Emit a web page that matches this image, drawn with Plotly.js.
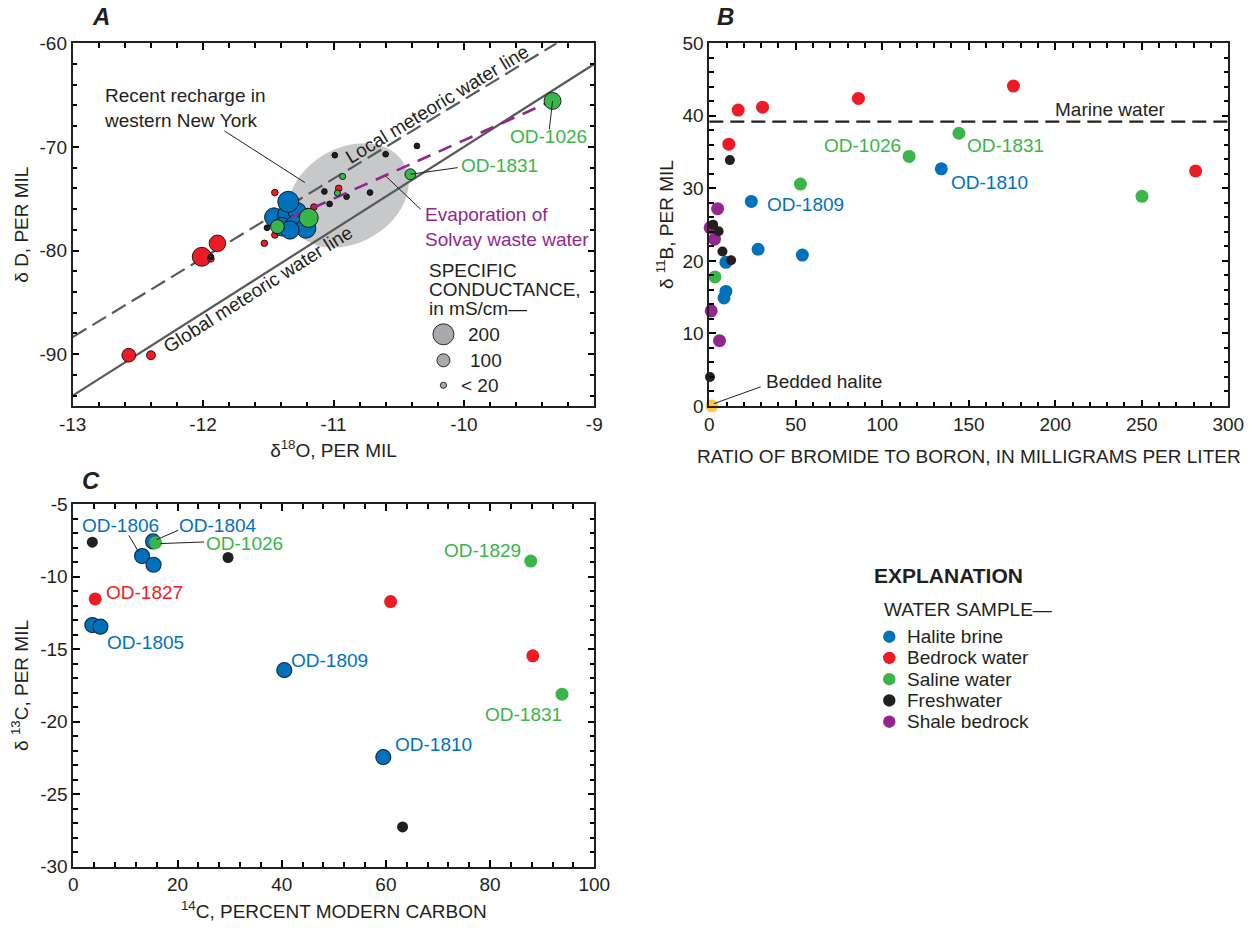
<!DOCTYPE html>
<html><head><meta charset="utf-8">
<script src="https://cdn.plot.ly/plotly-3.0.1.min.js"></script>
<style>html,body{margin:0;padding:0;background:#fff}#chart{width:1252px;height:930px}</style>
</head><body><div id="chart"></div>
<script>
// ---------- Panel A: delta18O vs deltaD, marker size = specific conductance (mS/cm)
const aRedX = [-12.57, -12.40, -12.01, -11.89, -11.94, -11.45, -11.45, -11.53, -11.15, -10.96];
const aRedY = [-90.1, -90.1, -80.6, -79.3, -80.8, -74.4, -78.5, -79.3, -75.8, -74.0];
const aRedSC = [110, 50, 175, 145, 20, 20, 20, 20, 20, 20];
const aFreshX = [-10.99, -10.60, -10.36, -11.07, -10.90, -10.72, -11.03, -11.25, -11.20, -11.51, -11.94];
const aFreshY = [-70.8, -70.7, -69.9, -74.3, -74.8, -74.4, -75.5, -75.8, -76.2, -77.8, -80.6];
const aFreshSC = [10, 10, 10, 10, 10, 10, 10, 10, 10, 10, 10];
const aHaliteX = [-11.456, -11.359, -11.278, -11.397, -11.295, -11.211, -11.334, -11.347];
const aHaliteY = [-76.79, -76.47, -76.25, -77.70, -77.53, -77.85, -78.02, -75.29];
const aHaliteSC = [175, 160, 165, 170, 175, 185, 165, 200];
const aSalineX = [-9.32, -10.41, -11.19, -11.43, -10.93, -10.97];
const aSalineY = [-65.56, -72.64, -76.85, -77.7, -72.85, -74.45];
const aSalineSC = [150, 75, 175, 110, 15, 15];
const gmwlX = [-13, -9], gmwlY = [-94, -62];            // global meteoric water line
const lmwlX = [-13, -9.29], lmwlY = [-88.35, -60];      // local meteoric water line
const evapX = [-11.32, -9.36], evapY = [-76.8, -65.75]; // evaporation of Solvay waste water
const scLegendValues = [200, 100, 15];
const scLegendLabels = ['200', '100', '&lt; 20'];
const aXTicks = [-13, -12, -11, -10, -9], aXTickText = ['-13', '-12', '-11', '-10', '-9'];
const aYTicks = [-90, -80, -70, -60], aYTickText = ['-90', '-80', '-70', '-60'];

// ---------- Panel B: ratio of bromide to boron vs delta11B
const bHaliteX = [134.1, 24.3, 28.2, 53.8, 9.6, 9.6, 8.5];
const bHaliteY = [32.7, 28.2, 21.6, 20.8, 19.8, 15.8, 14.9];
const bBedrockX = [16.7, 30.8, 86.2, 175.8, 11.3, 281.1];
const bBedrockY = [40.8, 41.2, 42.4, 44.1, 36.1, 32.4];
const bSalineX = [115.5, 144.3, 52.7, 250.1, 3.3];
const bSalineY = [34.4, 37.6, 30.6, 28.9, 17.8];
const bFreshX = [11.9, 2.2, 5.4, 7.6, 12.6, 0.4];
const bFreshY = [33.9, 25.0, 24.1, 21.3, 20.1, 4.0];
const bShaleX = [4.8, 0.5, 3.0, 1.1, 5.9];
const bShaleY = [27.2, 24.6, 23.0, 13.1, 9.0];
const bBeddedX = [1.5], bBeddedY = [0];
const marineB = 39.2;

// ---------- Panel C: 14C vs delta13C
const cHaliteX = [15.3, 13.2, 15.4, 3.65, 5.2, 40.5, 59.5];
const cHaliteY = [-7.56, -8.57, -9.17, -13.33, -13.44, -16.44, -22.44];
const cBedrockX = [4.2, 60.9, 88.2], cBedrockY = [-11.53, -11.71, -15.45];
const cSalineX = [15.8, 87.8, 93.8], cSalineY = [-7.65, -8.92, -18.1];
const cFreshX = [3.65, 29.7, 63.2], cFreshY = [-7.61, -8.67, -27.26];
const cYTicks = [-30, -25, -20, -15, -10, -5], cYTickText = ['-30', '-25', '-20', '-15', '-10', '-5'];

const legendNames = ['Halite brine', 'Bedrock water', 'Saline water', 'Freshwater', 'Shale bedrock'];

// ---------- styles
const FONT = 'Liberation Sans, Arial, Helvetica, sans-serif';
const FS = 19;
const INK = '#231f20';
const BLUE = '#0072bc', RED = '#ed1c24', GREEN = '#39b54a', BLACK = '#231f20', PURPLE = '#92278f', YELLOW = '#fdc84a';
const legendColors = [BLUE, RED, GREEN, BLACK, PURPLE];
const GRAYLINE = '#58595b', ELLIPSE = '#c7c8ca', SCGRAY = '#a7a9ac';
const scSize = v => 5 + 0.08 * v;

const traces = [];
const line = (x, y, color, width, dash) => ({type: 'scatter', mode: 'lines', x, y, xaxis: 'x', yaxis: 'y',
  line: {color, width, dash}, showlegend: false, hoverinfo: 'skip'});
const aPts = (x, y, sc, color) => ({type: 'scatter', mode: 'markers', x, y, xaxis: 'x', yaxis: 'y',
  marker: {color, opacity: 1, size: sc.map(scSize), line: {color: '#000', width: 0.8}}, showlegend: false, cliponaxis: false});

traces.push(line(gmwlX, gmwlY, GRAYLINE, 2.2, 'solid'));
traces.push(line(lmwlX, lmwlY, GRAYLINE, 2.2, '16px,7px'));
traces.push(aPts(aRedX, aRedY, aRedSC, RED));
traces.push(aPts(aFreshX, aFreshY, aFreshSC, BLACK));
traces.push(aPts(aHaliteX, aHaliteY, aHaliteSC, BLUE));
traces.push(line(evapX, evapY, PURPLE, 2.6, '14px,9px'));
traces.push(aPts(aSalineX, aSalineY, aSalineSC, GREEN));
const scKeyX = -10.157, scKeyY = [-88.08, -90.59, -93.0];
traces.push({type: 'scatter', mode: 'markers', x: scLegendValues.map(() => scKeyX), y: scKeyY, xaxis: 'x', yaxis: 'y',
  marker: {color: SCGRAY, opacity: 1, size: scLegendValues.map(scSize), line: {color: '#000', width: 0.8}}, showlegend: false});

const bPts = (x, y, color, size, name) => ({type: 'scatter', mode: 'markers', x, y, xaxis: 'x2', yaxis: 'y2',
  name, showlegend: false, cliponaxis: false, marker: {color, opacity: 1, size, line: {width: 0}}});
traces.push(bPts(bHaliteX, bHaliteY, BLUE, 13, 'Halite brine'));
traces.push(bPts(bBedrockX, bBedrockY, RED, 13, 'Bedrock water'));
traces.push(bPts(bSalineX, bSalineY, GREEN, 13, 'Saline water'));
traces.push(bPts(bShaleX, bShaleY, PURPLE, 13, 'Shale bedrock'));
traces.push(bPts(bFreshX, bFreshY, BLACK, 10, 'Freshwater'));
traces.push(bPts(bBeddedX, bBeddedY, YELLOW, 13, 'Bedded halite'));

const cPts = (x, y, color, size, outline) => ({type: 'scatter', mode: 'markers', x, y, xaxis: 'x3', yaxis: 'y3',
  showlegend: false, cliponaxis: false, marker: {color, opacity: 1, size, line: {color: '#14304d', width: outline}}});
traces.push(cPts(cFreshX, cFreshY, BLACK, 11, 0));
traces.push(cPts(cHaliteX, cHaliteY, BLUE, 15, 1.2));
traces.push(cPts(cBedrockX, cBedrockY, RED, 13, 0));
traces.push(cPts(cSalineX, cSalineY, GREEN, 13, 0));

const tfont = {family: FONT, size: FS, color: INK};
function axis(mt0, mdt, extra) {
  return Object.assign({
    showline: true, linecolor: INK, linewidth: 1.8, mirror: 'ticks',
    ticks: 'inside', ticklen: 6.5, tickwidth: 2, tickcolor: '#000',
    minor: {ticks: 'inside', ticklen: 4.5, tickwidth: 1.6, tickcolor: '#000', showgrid: false, tickmode: 'linear', tick0: mt0, dtick: mdt},
    showgrid: false, zeroline: false, automargin: false,
    tickfont: {family: FONT, size: FS, color: INK}
  }, extra);
}

// ---------- recharge ellipse (pixel semi-axes converted to data units)
const ell = {cx: -10.885, cy: -74.68, a: 64, b: 47.5, deg: 30, pxX: 130.4, pxY: 10.363};
let ellPath = '';
for (let i = 0; i <= 72; i++) {
  const t = i / 72 * 2 * Math.PI, th = ell.deg * Math.PI / 180;
  const dx = ell.a * Math.cos(t) * Math.cos(th) - ell.b * Math.sin(t) * Math.sin(th);
  const dy = ell.a * Math.cos(t) * Math.sin(th) + ell.b * Math.sin(t) * Math.cos(th);
  ellPath += (i ? ' L ' : 'M ') + (ell.cx + dx / ell.pxX).toFixed(4) + ',' + (ell.cy + dy / ell.pxY).toFixed(4);
}
ellPath += ' Z';

const ptr = (xr, yr, x0, y0, x1, y1) => ({type: 'line', xref: xr, yref: yr, x0, y0, x1, y1, line: {color: INK, width: 1}});
const shapes = [
  {type: 'path', xref: 'x', yref: 'y', path: ellPath, fillcolor: ELLIPSE, line: {width: 0}, layer: 'below'},
  ptr('x', 'y', -11.836, -68.46, -11.219, -73.44),
  ptr('x', 'y', -9.32, -65.56, -9.345, -68.3),
  ptr('x', 'y', -10.41, -72.64, -10.048, -72.0),
  ptr('x', 'y', -10.60, -72.81, -10.331, -76.02),
  {type: 'line', xref: 'x2 domain', yref: 'y2', x0: 0, x1: 1, y0: marineB, y1: marineB, line: {color: INK, width: 2.2, dash: '14px,7px'}},
  ptr('x2', 'y2', 2.6, 0.32, 29.7, 2.64),
  ptr('x3', 'y3', 10.65, -7.14, 12.55, -8.29),
  ptr('x3', 'y3', 20.15, -6.79, 15.97, -7.44),
  ptr('x3', 'y3', 25.09, -7.60, 16.74, -7.71)
];
const legDotX = 0.7103, legTextX = 0.7228, legY0 = 0.3154, legDY = 0.02285;
legendColors.forEach((c, i) => shapes.push({type: 'circle', xref: 'paper', yref: 'paper', xsizemode: 'pixel', ysizemode: 'pixel',
  xanchor: legDotX, yanchor: legY0 - i * legDY, x0: -6.2, x1: 6.2, y0: -6.2, y1: 6.2, fillcolor: c, line: {width: 0}}));

const T = (text, xref, yref, x, y, color, o) => Object.assign({text, xref, yref, x, y, showarrow: false,
  xanchor: 'center', yanchor: 'middle', font: {family: FONT, size: FS, color: color || INK}}, o || {});
const LET = {family: FONT, size: 24, color: INK};
const annotations = [
  T('<b><i>A</i></b>', 'paper', 'paper', 0.0807, 0.982, INK, {font: LET}),
  T('<b><i>B</i></b>', 'paper', 'paper', 0.5791, 0.982, INK, {font: LET}),
  T('<b><i>C</i></b>', 'paper', 'paper', 0.0727, 0.4828, INK, {font: LET}),
  T('Recent recharge in<br>western New York', 'x', 'y', -12.777, -66.29, INK, {xanchor: 'left', align: 'left'}),
  T('Local meteoric water line', 'x', 'y', -10.21, -65.89, INK, {textangle: -31.3}),
  T('Global meteoric water line', 'x', 'y', -11.581, -83.74, INK, {textangle: -32.45}),
  T('OD-1026', 'x', 'y', -9.353, -68.95, GREEN),
  T('OD-1831', 'x', 'y', -10.035, -71.77, GREEN, {xanchor: 'left'}),
  T('Evaporation of<br>Solvay waste water', 'x', 'y', -10.317, -77.75, PURPLE, {xanchor: 'left', align: 'left'}),
  T('SPECIFIC', 'x', 'y', -10.277, -81.9, INK, {xanchor: 'left', height: 17, borderpad: 0}),
  T('CONDUCTANCE,', 'x', 'y', -10.277, -83.75, INK, {xanchor: 'left', height: 17, borderpad: 0}),
  T('in mS/cm\u2014', 'x', 'y', -10.277, -85.6, INK, {xanchor: 'left', height: 17, borderpad: 0}),
  T(scLegendLabels[0], 'x', 'y', -9.984, scKeyY[0], INK, {xanchor: 'left'}),
  T(scLegendLabels[1], 'x', 'y', -9.97, scKeyY[1], INK, {xanchor: 'left'}),
  T(scLegendLabels[2], 'x', 'y', -10.04, scKeyY[2], INK, {xanchor: 'left'}),
  T('Marine water', 'x2', 'y2', 231.9, 40.87),
  T('OD-1026', 'x2', 'y2', 112.2, 35.85, GREEN, {xanchor: 'right'}),
  T('OD-1831', 'x2', 'y2', 148, 35.85, GREEN, {xanchor: 'left'}),
  T('OD-1810', 'x2', 'y2', 138.3, 30.8, BLUE, {xanchor: 'left'}),
  T('OD-1809', 'x2', 'y2', 32, 27.75, BLUE, {xanchor: 'left'}),
  T('Bedded halite', 'x2', 'y2', 31.9, 3.43, INK, {xanchor: 'left'}),
  T('OD-1806', 'x3', 'y3', 9.14, -6.44, BLUE),
  T('OD-1804', 'x3', 'y3', 27.7, -6.49, BLUE),
  T('OD-1026', 'x3', 'y3', 32.8, -7.67, GREEN),
  T('OD-1827', 'x3', 'y3', 13.7, -11.06, RED),
  T('OD-1805', 'x3', 'y3', 13.8, -14.52, BLUE),
  T('OD-1809', 'x3', 'y3', 49.1, -15.79, BLUE),
  T('OD-1810', 'x3', 'y3', 69.1, -21.56, BLUE),
  T('OD-1829', 'x3', 'y3', 78.5, -8.17, GREEN),
  T('OD-1831', 'x3', 'y3', 86.5, -19.48, GREEN),
  T('<b>EXPLANATION</b>', 'paper', 'paper', 0.6962, 0.3817, INK, {xanchor: 'left', font: {family: FONT, size: 21, color: INK}}),
  T('WATER SAMPLE\u2014', 'paper', 'paper', 0.7042, 0.3441, INK, {xanchor: 'left'})
];
legendNames.forEach((n, i) => annotations.push(T(n, 'paper', 'paper', legTextX, legY0 - i * legDY, INK, {xanchor: 'left', height: 21})));

const layout = {
  width: 1252, height: 930, margin: {l: 0, r: 0, t: 0, b: 0},
  paper_bgcolor: '#fff', plot_bgcolor: '#fff',
  font: {family: FONT, size: FS, color: INK},
  showlegend: false,
  xaxis: axis(-13, 0.2, {domain: [0.05807, 0.47468], anchor: 'y', range: [-13, -9],
    tickmode: 'array', tickvals: aXTicks, ticktext: aXTickText,
    title: {text: '\u03b4<sup>18</sup>O, PER MIL', font: tfont, standoff: 10}}),
  yaxis: axis(-60, 2, {domain: [0.56344, 0.95344], anchor: 'x', range: [-95, -60],
    tickmode: 'array', tickvals: aYTicks, ticktext: aYTickText,
    title: {text: '\u03b4 D, PER MIL', font: tfont, standoff: 6}}),
  xaxis2: axis(0, 10, {domain: [0.56653, 0.98107], anchor: 'y2', range: [0, 300], dtick: 50, tick0: 0,
    title: {text: 'RATIO OF BROMIDE TO BORON, IN MILLIGRAMS PER LITER', font: tfont, standoff: 16}}),
  yaxis2: axis(0, 2, {domain: [0.56344, 0.95344], anchor: 'x2', range: [0, 50], dtick: 10, tick0: 0,
    title: {text: '\u03b4 <sup>11</sup>B, PER MIL', font: tfont, standoff: 4}}),
  xaxis3: axis(0, 4, {domain: [0.05855, 0.47468], anchor: 'y3', range: [0, 100], dtick: 20, tick0: 0,
    title: {text: '<sup>14</sup>C, PERCENT MODERN CARBON', font: tfont, standoff: 10}}),
  yaxis3: axis(-30, 1, {domain: [0.06806, 0.45774], anchor: 'x3', range: [-30, -5],
    tickmode: 'array', tickvals: cYTicks, ticktext: cYTickText,
    title: {text: '\u03b4 <sup>13</sup>C, PER MIL', font: tfont, standoff: 6}}),
  shapes, annotations
};

Plotly.newPlot('chart', traces, layout, {displayModeBar: false});
</script>
</body></html>
